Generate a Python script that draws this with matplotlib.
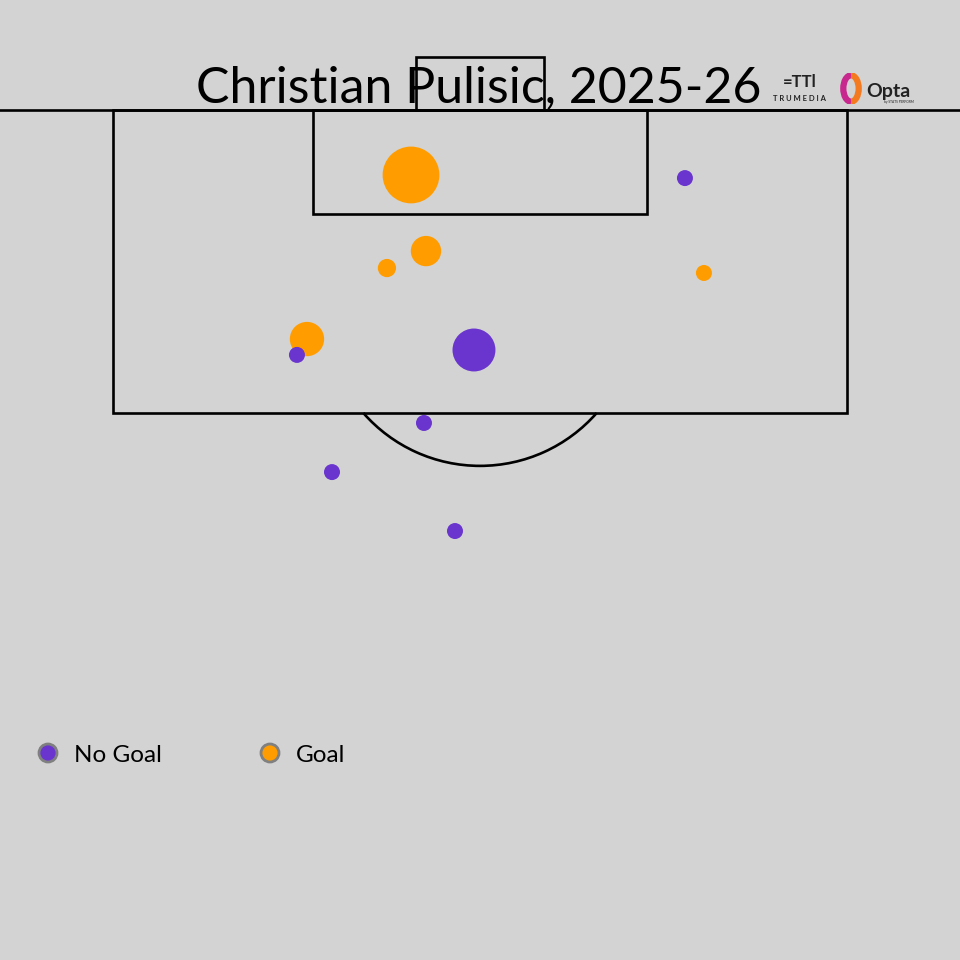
import numpy as np
import matplotlib.pyplot as plt
from matplotlib.patches import Rectangle, Arc, Circle

plt.rcParams['font.family'] = ['Lato', 'DejaVu Sans']

# shot data: x = metres from pitch centre line, d = metres from goal line
shot_x = [-3.78, 11.23, -2.96, -5.10, 12.27, -9.48, -10.03, -0.33, -3.07, -8.11, -1.37]
shot_d = [3.56, 3.73, 7.73, 8.66, 8.93, 12.55, 13.42, 13.15, 17.15, 19.84, 23.07]
shot_xg = [0.63, 0.05, 0.18, 0.065, 0.05, 0.23, 0.05, 0.36, 0.05, 0.05, 0.05]
shot_goal = [1, 0, 1, 1, 1, 1, 0, 0, 0, 0, 0]

title = 'Christian Pulisic, 2025-26'
legend_labels = ['No Goal', 'Goal']
col_nogoal = '#6935CE'
col_goal = '#FF9C00'
bg = '#D3D3D3'

s = 18.25  # px per metre
W, H = 960, 960
fig = plt.figure(figsize=(9.6, 9.6), dpi=100, facecolor=bg)
ax = fig.add_axes([0, 0, 1, 1])
ax.set_facecolor(bg)
ax.set_xlim(-480 / s, 480 / s)
ax.set_ylim((H - 110) / s, -110 / s)
ax.axis('off')

lw = 1.9
# goal line
ax.plot([-40, 40], [0, 0], color='black', lw=lw, solid_capstyle='butt')
# penalty area
ax.add_patch(Rectangle((-20.1, 0), 40.2, 16.6, fill=False, ec='black', lw=lw))
# six-yard box
ax.add_patch(Rectangle((-9.16, 0), 18.32, 5.7, fill=False, ec='black', lw=lw))
# goal
ax.add_patch(Rectangle((-3.5, -2.9), 7.0, 2.9, fill=False, ec='black', lw=lw))
# penalty arc
r = 8.5
ang = np.degrees(np.arcsin((16.6 - 11) / r))
ax.add_patch(Arc((0, 11), 2 * r, 2 * r, theta1=ang, theta2=180 - ang, color='black', lw=lw))

x = np.array(shot_x)
d = np.array(shot_d)
xg = np.array(shot_xg)
g = np.array(shot_goal) == 1
ax.scatter(x[g], d[g], s=xg[g] * 2654, color=col_goal, lw=0, zorder=3)
ax.scatter(x[~g], d[~g], s=xg[~g] * 2654, color=col_nogoal, lw=0, zorder=4)

# title
fig.text(479 / W, 1 - 102 / H, title, ha='center', va='baseline', fontsize=36, color='black')

# logos (approximate)
fig.text(799 / W, 1 - 101 / H, 'T R U M E D I A', ha='center', va='baseline', fontsize=5.5,
         fontweight='bold', color='#222222')
fig.text(800 / W, 1 - 87 / H, '=TTl', ha='center', va='baseline', fontsize=12,
         fontweight='bold', color='#222222')
ax_o = fig.add_axes([837 / W, 1 - 104 / H, 28 / W, 31 / H])
ax_o.set_xlim(0, 1)
ax_o.set_ylim(0, 1)
ax_o.axis('off')
ax_o.add_patch(Arc((0.5, 0.5), 0.55, 0.85, theta1=90, theta2=270, color='#C8278E', lw=4.5))
ax_o.add_patch(Arc((0.5, 0.5), 0.55, 0.85, theta1=-90, theta2=90, color='#F47A20', lw=4.5))
fig.text(866 / W, 1 - 97 / H, 'Opta', ha='left', va='baseline', fontsize=14,
         fontweight='bold', color='#222222')
fig.text(884 / W, 1 - 103 / H, 'by STATS PERFORM', ha='left', va='baseline', fontsize=2.3,
         color='#222222')

# legend
for cx, col, lab, tx in [(48, col_nogoal, legend_labels[0], 74), (270, col_goal, legend_labels[1], 296)]:
    fig.patches.append(Circle((cx / W, 1 - 753 / H), 9 / W, transform=fig.transFigure,
                              facecolor=col, edgecolor='#808080', lw=2))
    fig.text(tx / W, 1 - 755 / H, lab, ha='left', va='center', fontsize=17.5, color='black')

fig.savefig('out.png', dpi=100, facecolor=bg)
